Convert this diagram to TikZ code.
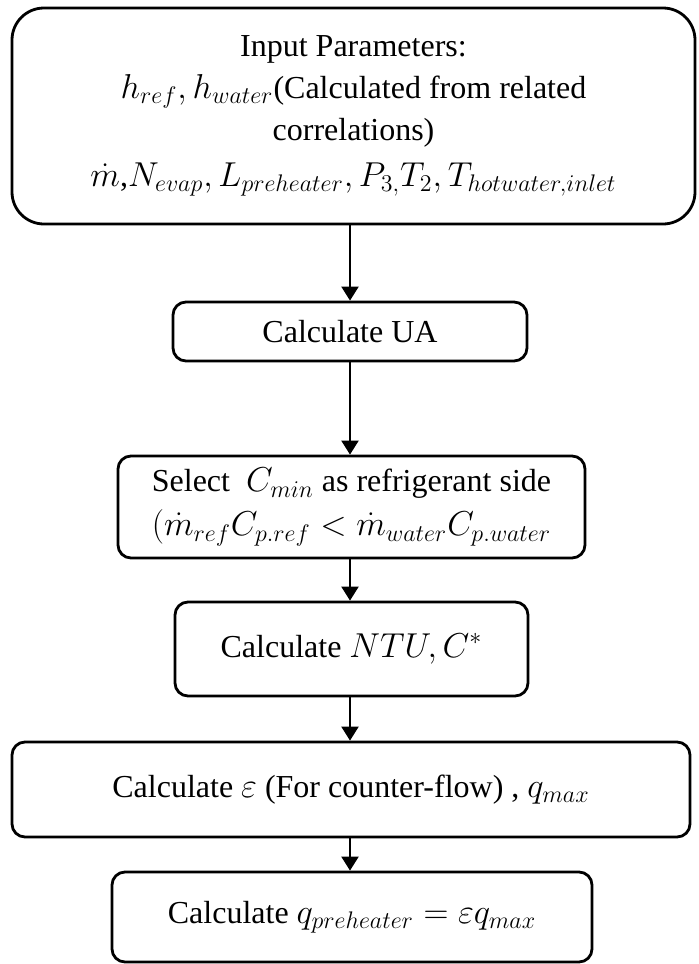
\documentclass[tikz,border=0pt]{standalone}
\usepackage{fontspec}
\setmainfont{Liberation Serif}
\DeclareMathSizes{16}{16}{12}{10}
\usetikzlibrary{arrows.meta}
\begin{document}
\begin{tikzpicture}[x=0.5pt,y=-0.5pt,
  box/.style={draw=black, line width=1.4pt, rounded corners=6.5pt, inner sep=0pt, align=center,
    font=\fontsize{16}{21}\selectfont},
  flow/.style={-{Triangle[length=7pt,width=8.5pt]}, line width=1.1pt}]
\useasboundingbox (0,0) rectangle (699,964);

% process boxes, top to bottom
\node[box, rounded corners=16pt, minimum width=341.5pt, minimum height=108pt] (inp) at (353.5,116)
  {Input Parameters:\\
   $h_{ref}, h_{water}$(Calculated from related\\
   correlations)\\[2pt]
   $\dot{m}$,$N_{evap}, L_{preheater}, P_{3,}T_{2}, T_{hotwater,inlet}$};
\node[box, minimum width=177pt, minimum height=29.5pt] (ua) at (350,331.5) {Calculate UA};
\node[box, minimum width=233.5pt, minimum height=51pt] (cmin) at (351.5,507)
  {Select \ $C_{min}$ as refrigerant side\\[1pt]
   $(\dot{m}_{ref}C_{p.ref} < \dot{m}_{water}C_{p.water}$};
\node[box, minimum width=176.5pt, minimum height=47pt] (ntu) at (351.5,649) {Calculate $NTU, C^{*}$};
\node[box, minimum width=339pt, minimum height=47.5pt] (eps) at (351,789.5)
  {Calculate $\varepsilon$ (For counter-flow) , $q_{max}$};
\node[box, minimum width=240pt, minimum height=45pt] (q) at (352,917)
  {Calculate $q_{preheater} = \varepsilon q_{max}$};

% connectors
\draw[flow] (inp.south -| ua.north) -- (ua.north);
\draw[flow] (ua.south) -- (cmin.north -| ua.south);
\draw[flow] (cmin.south -| ua.south) -- (ntu.north -| ua.south);
\draw[flow] (ntu.south -| ua.south) -- (eps.north -| ua.south);
\draw[flow] (eps.south -| ua.south) -- (q.north -| ua.south);
\end{tikzpicture}
\end{document}
